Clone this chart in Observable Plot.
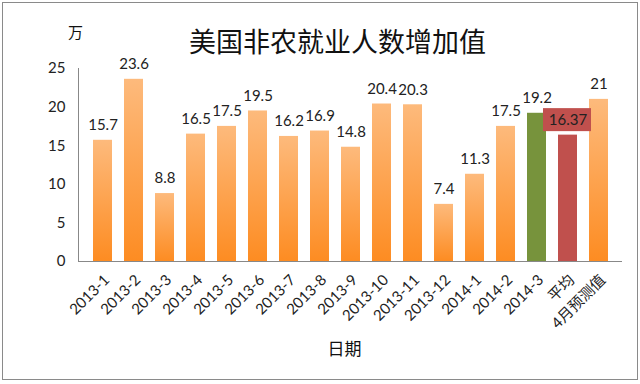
<!DOCTYPE html>
<html><head><meta charset="utf-8">
<script src="https://cdn.jsdelivr.net/npm/d3@7"></script>
<script src="https://cdn.jsdelivr.net/npm/@observablehq/plot@0.6"></script>
<style>
body{margin:0;background:#fff;}
#chart{position:relative;width:640px;height:384px;}
</style></head>
<body><div id="chart"></div>
<script>
const categories = ["2013-1","2013-2","2013-3","2013-4","2013-5","2013-6","2013-7","2013-8","2013-9","2013-10","2013-11","2013-12","2014-1","2014-2","2014-3","平均","4月预测值"];
const values = [15.7,23.6,8.8,16.5,17.5,19.5,16.2,16.9,14.8,20.4,20.3,7.4,11.3,17.5,19.2,16.37,21];
const labels = ["15.7","23.6","8.8","16.5","17.5","19.5","16.2","16.9","14.8","20.4","20.3","7.4","11.3","17.5","19.2","16.37","21"];
const yTicks = [0,5,10,15,20,25];
const title = "美国非农就业人数增加值";
const yUnit = "万";
const xTitle = "日期";

const data = categories.map((c,i)=>({cat:c, value:values[i], label:labels[i]}));
const fillFor = c => c === "2014-3" ? "#77933C" : c === "平均" ? "#C0504D" : "url(#orangeGrad)";
const font = "Lato, 'Noto Sans CJK SC', sans-serif";
const cjk = "'Noto Sans CJK SC', sans-serif";

const plot = Plot.plot({
  width: 640, height: 384,
  marginLeft: 78, marginRight: 18, marginTop: 68, marginBottom: 123,
  style: {fontFamily: font, fontSize: "13px", color: "#222", background: "#fff"},
  x: {domain: categories, padding: 0.4, label: null},
  y: {domain: [0,25], ticks: yTicks, label: null},
  marks: [
    Plot.barY(data, {x:"cat", y:"value", fill: d => fillFor(d.cat)}),
    Plot.frame({anchor:"left", stroke:"#888"}),
    Plot.ruleY([0], {stroke:"#888"}),
    Plot.axisY({ticks: yTicks, tickSize:0, tickPadding:13, fontSize:15, label:null}),
    Plot.axisX({tickSize:0, tickRotate:-45, tickPadding:16, fontSize:15, label:null, dx:4}),
    Plot.text(data, {x:"cat", y:"value", text:"label", dy:-15, fontSize:15, fill:"#222"}),
    Plot.text([title], {frameAnchor:"top", lineAnchor:"middle", dx:-13, dy:-25, fontSize:27, fill:"#111", fontFamily:cjk}),
    Plot.text([yUnit], {frameAnchor:"top-left", textAnchor:"middle", lineAnchor:"middle", dx:-3, dy:-35, fontSize:15, fill:"#111", fontFamily:cjk}),
    Plot.text([xTitle], {frameAnchor:"bottom", lineAnchor:"middle", dx:-6, dy:88, fontSize:17, fill:"#111", fontFamily:cjk})
  ]
});

const svg = d3.select(plot);
const defs = svg.insert("defs", ":first-child");
const g = defs.append("linearGradient").attr("id","orangeGrad").attr("x1",0).attr("y1",0).attr("x2",0).attr("y2",1);
g.append("stop").attr("offset","0%").attr("stop-color","#FDBA7C");
g.append("stop").attr("offset","100%").attr("stop-color","#FD8C22");

// red background box behind the average label
const xs = plot.scale("x"), ys = plot.scale("y");
const avgIdx = categories.indexOf("平均");
const cx = xs.apply(categories[avgIdx]) + xs.bandwidth/2;
const cy = ys.apply(values[avgIdx]) - 15;
const textNodes = svg.selectAll("text").filter(function(){ return this.textContent === labels[avgIdx]; }).nodes();
if (textNodes.length) {
  const tn = textNodes[0];
  const grp = tn.parentNode;
  const rect = document.createElementNS("http://www.w3.org/2000/svg","rect");
  rect.setAttribute("x", cx - 24.5);
  rect.setAttribute("y", cy - 11.5);
  rect.setAttribute("width", 48);
  rect.setAttribute("height", 23);
  rect.setAttribute("fill", "#C0504D");
  grp.parentNode.insertBefore(rect, grp);
}
// outer border
svg.append("rect").attr("x",2.5).attr("y",2.5).attr("width",635).attr("height",377).attr("fill","none").attr("stroke","#8a8a8a");

document.getElementById("chart").appendChild(plot);
</script></body></html>
